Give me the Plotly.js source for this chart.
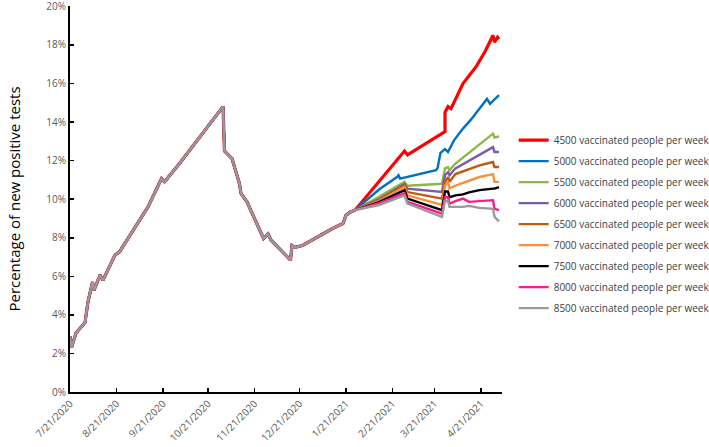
<!DOCTYPE html>
<html>
<head>
<meta charset="utf-8">
<script src="https://cdn.plot.ly/plotly-3.0.1.min.js"></script>
<style>html,body{margin:0;padding:0;background:#fff;}#chart{width:709px;height:447px;}</style>
</head>
<body>
<div id="chart"></div>
<script>
// Shared observed history (percent)
const histDates = ['2020-07-21','2020-07-22','2020-07-25','2020-07-31','2020-08-02','2020-08-05','2020-08-06','2020-08-10','2020-08-12','2020-08-20','2020-08-23','2020-09-03','2020-09-11','2020-09-20','2020-09-22','2020-10-02','2020-10-19','2020-10-31','2020-11-01','2020-11-06','2020-11-11','2020-11-12','2020-11-16','2020-11-27','2020-11-30','2020-12-02','2020-12-15','2020-12-16','2020-12-18','2020-12-23','2021-01-12','2021-01-19','2021-01-21','2021-01-24','2021-01-27'];
const histVals = [2.9,2.3,3.06,3.6,4.68,5.7,5.28,6.06,5.8,7.1,7.27,8.65,9.6,11.07,10.9,11.85,13.57,14.8,12.5,12.1,10.8,10.3,9.86,7.96,8.2,7.88,6.84,7.6,7.5,7.6,8.48,8.74,9.17,9.34,9.43];

// Scenario projections
const dates4500 = ['2021-02-12','2021-03-01','2021-03-03','2021-03-28','2021-03-28','2021-03-30','2021-04-01','2021-04-09','2021-04-18','2021-04-24','2021-04-29','2021-04-30','2021-05-02','2021-05-03'];
const vals4500 = [10.95,12.5,12.3,13.5,14.5,14.8,14.7,16.0,16.9,17.7,18.5,18.15,18.4,18.3];

const dates5000 = ['2021-02-12','2021-02-24','2021-02-25','2021-02-26','2021-03-22','2021-03-23','2021-03-25','2021-03-28','2021-03-30','2021-04-03','2021-04-09','2021-04-14','2021-04-25','2021-04-27','2021-05-03'];
const vals5000 = [10.5,11.15,11.24,11.07,11.5,11.6,12.4,12.6,12.45,13.05,13.66,14.1,15.2,14.95,15.4];

const bundleDates = ['2021-02-12','2021-03-01','2021-03-03','2021-03-26','2021-03-28','2021-03-30','2021-03-31','2021-04-04','2021-04-09','2021-04-13','2021-04-20','2021-04-29','2021-04-30','2021-05-03'];
const vals5500 = [10.12,10.9,10.7,10.8,11.6,11.67,11.5,11.85,12.16,12.41,12.84,13.4,13.2,13.26];
const vals6000 = [10.0,10.8,10.55,10.37,11.24,11.4,11.24,11.6,11.82,12.0,12.3,12.7,12.45,12.45];
const vals6500 = [9.95,10.73,10.37,10.03,10.9,11.15,10.9,11.3,11.45,11.55,11.75,11.93,11.67,11.67];
const vals7000 = [9.9,10.63,10.2,9.7,10.7,10.9,10.55,10.7,10.85,10.95,11.15,11.3,10.9,10.9];
const vals7500 = [9.85,10.47,10.03,9.43,10.4,10.4,10.1,10.2,10.25,10.35,10.47,10.55,10.55,10.63];
const vals8000 = [9.8,10.3,9.86,9.25,10.1,10.1,9.77,9.9,10.03,9.86,9.9,9.95,9.5,9.43];
const vals8500 = [9.7,10.2,9.77,9.08,9.9,9.9,9.6,9.6,9.6,9.65,9.55,9.5,9.08,8.85];

const seriesNames = ['4500 vaccinated people per week','5000 vaccinated people per week','5500 vaccinated people per week','6000 vaccinated people per week','6500 vaccinated people per week','7000 vaccinated people per week','7500 vaccinated people per week','8000 vaccinated people per week','8500 vaccinated people per week'];
const seriesDates = [dates4500, dates5000, bundleDates, bundleDates, bundleDates, bundleDates, bundleDates, bundleDates, bundleDates];
const seriesVals = [vals4500, vals5000, vals5500, vals6000, vals6500, vals7000, vals7500, vals8000, vals8500];
const seriesColors = ['#FF0000','#0070C0','#8DB83F','#7B5CA6','#C0580F','#F7923A','#000000','#FF1A8C','#999999'];

const tickDates = ['2020-07-21','2020-08-21','2020-09-21','2020-10-21','2020-11-21','2020-12-21','2021-01-21','2021-02-21','2021-03-21','2021-04-21'];
const tickLabels = ['7/21/2020','8/21/2020','9/21/2020','10/21/2020','11/21/2020','12/21/2020','1/21/2021','2/21/2021','3/21/2021','4/21/2021'];
const yTickVals = [0,2,4,6,8,10,12,14,16,18,20];
const yTickLabels = ['0%','2%','4%','6%','8%','10%','12%','14%','16%','18%','20%'];

const traces = seriesNames.map((n, i) => ({
  type: 'scatter', mode: 'lines', name: n, legendgroup: 'g' + i,
  x: histDates.concat(seriesDates[i]),
  y: histVals.concat(seriesVals[i]),
  line: {color: seriesColors[i], width: i === 0 ? 3.2 : 2.4},
  hoverinfo: 'skip'
}));

const layout = {
  width: 709, height: 447,
  margin: {l: 70, r: 207, t: 6, b: 55, autoexpand: false},
  paper_bgcolor: '#fff', plot_bgcolor: '#fff',
  font: {family: 'Open Sans, Noto Sans, sans-serif', size: 10, color: '#595959'},
  showlegend: true,
  legend: {x: 1.027, y: 0.69, xanchor: 'left', yanchor: 'top', font: {size: 10, color: '#404040'}, bgcolor: 'rgba(0,0,0,0)', tracegroupgap: 2, itemwidth: 30},
  xaxis: {
    type: 'date', range: ['2020-07-21', '2021-05-05'],
    tickmode: 'array', tickvals: tickDates, ticktext: tickLabels,
    tickangle: -45, ticks: 'inside', ticklen: 4, tickwidth: 1.5, tickcolor: '#000',
    showline: true, linecolor: '#000', linewidth: 2, showgrid: false, zeroline: false,
    ticklabeloverflow: 'allow',
    tickfont: {size: 10, color: '#595959'}
  },
  yaxis: {
    range: [0, 20.02], tickmode: 'array', tickvals: yTickVals, ticktext: yTickLabels,
    ticks: 'inside', ticklen: 4, tickwidth: 1.5, tickcolor: '#000',
    showline: true, linecolor: '#000', linewidth: 2, showgrid: false, zeroline: false,
    ticklabeloverflow: 'allow',
    tickfont: {size: 10, color: '#595959'},
    title: {text: 'Percentage of new positive tests', font: {size: 15, color: '#000'}, standoff: 22}
  }
};

Plotly.newPlot('chart', traces, layout, {displayModeBar: false, staticPlot: true});
</script>
</body>
</html>
